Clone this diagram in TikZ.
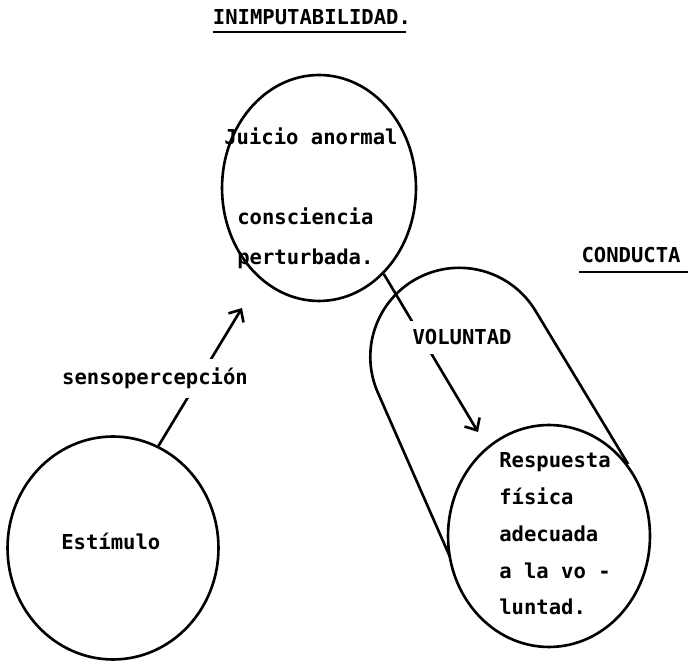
\documentclass[tikz,border=0pt]{standalone}
\usepackage{fontspec}
\setmonofont{DejaVu Sans Mono}
\usetikzlibrary{shapes.geometric,arrows.meta}

\begin{document}
\begin{tikzpicture}[x=0.02cm, y=0.02cm,
    txt/.style={inner sep=0pt, font=\ttfamily\bfseries\fontsize{11.7}{14}\selectfont},
    lbl/.style={txt, fill=white, inner sep=5pt},
    bubble/.style={draw, ellipse, inner sep=0pt, line width=1.5pt},
    arr/.style={line width=1.5pt, -{Straight Barb[length=5.5pt,width=10pt]}}]
    \useasboundingbox (0,0) rectangle (688,661);
    \node[bubble, minimum width=3.88cm, minimum height=4.52cm] at (319,473) (juicio) {};
    \node[bubble, minimum width=4.22cm, minimum height=4.46cm] at (113,113) (estimulo) {};
    \node[bubble, minimum width=4.04cm, minimum height=4.44cm] at (549,125) (respuesta) {};
    % capsule round the response
    \draw[line width=1.5pt] (450,104) -- (378,268) arc[start angle=204, end angle=31, radius=1.78cm] -- (628,197);
    \coordinate (senstip) at (242,353);
    \coordinate (voltip) at (478,229);
    \draw[arr] (estimulo.66) -- (senstip);
    \draw[arr] (juicio.-53) -- (voltip);
    \node[lbl, anchor=base] at (155,276) (sens) {sensopercepción};
    \node[lbl, anchor=base] at (462,316) (vol) {VOLUNTAD};
    % headings
    \node[txt, anchor=base] at (312,636) (titulo) {INIMPUTABILIDAD.};
    \draw[line width=1.3pt] ([yshift=-4pt]titulo.base west) -- ([yshift=-4pt,xshift=-3pt]titulo.base east);
    \node[txt, anchor=base] at (631,398) (conducta) {CONDUCTA};
    \draw[line width=1.3pt] ([yshift=-5pt,xshift=-1pt]conducta.base west) -- ([yshift=-5pt,xshift=4pt]conducta.base east);
    % texts in the circles
    \node[txt, anchor=base west] at (224,516) (juicio1) {Juicio anormal};
    \node[txt, anchor=base west] at (237,436) (juicio2) {consciencia};
    \node[txt, anchor=base west] at (237,396) (juicio3) {perturbada.};
    \node[txt, anchor=base west] at (61,111) (estim) {Estímulo};
    \foreach \t [count=\i] in {Respuesta, física, adecuada, a la vo -, luntad.}
      \node[txt, anchor=base west] at (499,{193-36.7*(\i-1)}) (resp\i) {\t};
\end{tikzpicture}
\end{document}
